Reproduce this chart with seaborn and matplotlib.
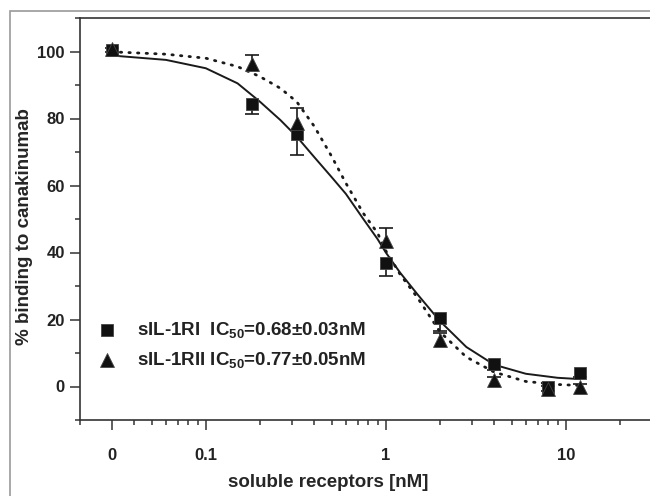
import matplotlib
matplotlib.use("Agg")
import matplotlib.pyplot as plt
import numpy as np
import seaborn as sns
from matplotlib.patches import Rectangle
from matplotlib.ticker import FixedLocator, LogLocator, MultipleLocator, NullFormatter

# receptor concentration (nM); the "0" control is drawn at 0.03 on the log axis
conc = [0.03, 0.18, 0.32, 1.0, 2.0, 4.0, 8.0, 12.0]
ri_mean = [100.3, 84.4, 75.5, 36.9, 20.5, 6.6, -0.2, 4.1]
ri_err = [0.3, 3.0, 6.3, 4.0, 4.0, 1.8, 1.0, 1.3]      # drawn below the squares
rii_mean = [100.8, 96.4, 78.8, 43.5, 14.0, 1.8, -0.7, -0.2]
rii_err = [0.3, 2.6, 4.3, 3.8, 2.0, 1.0, 0.8, 0.8]     # drawn above the triangles

# fitted curves
fit_x = [0.03, 0.06, 0.1, 0.15, 0.2, 0.26, 0.32, 0.4, 0.5, 0.6, 0.75, 0.9,
         1.0, 1.2, 1.5, 2.0, 2.8, 4.0, 6.0, 9.0, 12.0]
fit_ri = [98.8, 97.5, 95.0, 90.5, 85.0, 79.5, 74.6, 68.5, 62.5, 57.5, 50.0, 44.0,
          40.0, 34.0, 27.5, 19.5, 11.8, 6.5, 3.8, 2.6, 2.2]
fit_rii = [99.9, 99.2, 98.0, 95.5, 92.5, 89.0, 85.0, 77.7, 68.7, 60.7, 51.7, 45.8,
           40.5, 33.5, 26.5, 16.3, 8.8, 4.3, 1.5, 0.6, 0.3]

x_ticks = [0.03, 0.1, 1, 10]
x_tick_labels = ["0", "0.1", "1", "10"]

ri_label = "sIL-1RI  IC$_{50}$=0.68±0.03nM"
rii_label = "sIL-1RII IC$_{50}$=0.77±0.05nM"

sns.set_theme(style="white")
plt.rcParams.update({
    "font.family": ["Liberation Sans", "DejaVu Sans"],
    "font.weight": "bold",
    "mathtext.fontset": "custom",
    "mathtext.rm": "Liberation Sans:bold",
    "mathtext.default": "rm",
    "text.color": "#222222",
})

W, H = 650, 496
fig = plt.figure(figsize=(W / 100, H / 100), dpi=100)
x_lo, x_hi = 0.02, 30
decade_px = 180
ax_w = decade_px * np.log10(x_hi / x_lo)
ax = fig.add_axes([80 / W, (H - 420) / H, ax_w / W, 402 / H])

ink = "#111111"
line_c = "#1a1a1a"
sns.lineplot(x=fit_x, y=fit_ri, ax=ax, color=line_c, lw=1.4, estimator=None, sort=False)
sns.lineplot(x=fit_x, y=fit_rii, ax=ax, color=line_c, lw=2.0, estimator=None, sort=False,
             linestyle=(0, (0.5, 2.6)), dash_capstyle="round")

# one-sided error bars: down for sIL-1RI, up for sIL-1RII
ri_end = np.subtract(ri_mean, ri_err)
rii_end = np.add(rii_mean, rii_err)
for mean, end in [(ri_mean, ri_end), (rii_mean, rii_end)]:
    ax.vlines(conc, mean, end, color=line_c, lw=1.2, zorder=3)
    ax.plot(conc, end, ls="none", marker="_", ms=10, mew=1.2, color=line_c, zorder=3)

sns.scatterplot(x=conc, y=ri_mean, ax=ax, marker="s", s=70, color=ink, edgecolor="#444444",
                linewidth=0.6, label=ri_label, zorder=4)
sns.scatterplot(x=conc, y=rii_mean, ax=ax, marker="^", s=100, color=ink, edgecolor="#444444",
                linewidth=0.6, label=rii_label, zorder=4)

ax.set_xscale("log")
ax.set_xlim(x_lo, x_hi)
ax.set_ylim(-10, 110)
ax.xaxis.set_major_locator(FixedLocator(x_ticks))
ax.set_xticklabels(x_tick_labels)
ax.xaxis.set_minor_locator(LogLocator(base=10, subs=np.arange(2, 10)))
ax.xaxis.set_minor_formatter(NullFormatter())
ax.yaxis.set_major_locator(MultipleLocator(20))
ax.yaxis.set_minor_locator(MultipleLocator(10))

for side in ["left", "top", "bottom"]:
    ax.spines[side].set_color("#333333")
    ax.spines[side].set_linewidth(1.2)
ax.spines["right"].set_visible(False)

ax.tick_params(which="both", direction="out", color="#333333", width=1.1,
               bottom=True, left=True, top=False, right=False,
               labelsize=12, labelcolor="#222222")
ax.tick_params(which="major", length=7)
ax.tick_params(which="minor", length=3.5)
ax.tick_params(axis="x", which="major", pad=13)
ax.tick_params(axis="y", which="major", pad=4)

ax.set_xlabel("soluble receptors [nM]", fontsize=13.5, fontweight="bold")
ax.set_ylabel("% binding to canakinumab", fontsize=13.5, fontweight="bold")
ax.xaxis.set_label_coords(328 / W, 1 - 474 / H, transform=fig.transFigure)
ax.yaxis.set_label_coords(33 / W, 1 - 227 / H, transform=fig.transFigure)

fs = 13.5
leg = ax.legend(loc="center left", bbox_to_anchor=(97.5 / W, 1 - 345 / H),
                bbox_transform=fig.transFigure, frameon=False, fontsize=fs,
                handlelength=1.0, handletextpad=1.1, borderpad=0, borderaxespad=0,
                labelspacing=0.55)
for t in leg.get_texts():
    t.set_fontweight("bold")

fig.add_artist(Rectangle((10 / W, -0.05), 1.1, (H - 11) / H + 0.05, transform=fig.transFigure,
                         fill=False, edgecolor="#9a9a9a", lw=1.2))

fig.savefig("out.png", dpi=100)
